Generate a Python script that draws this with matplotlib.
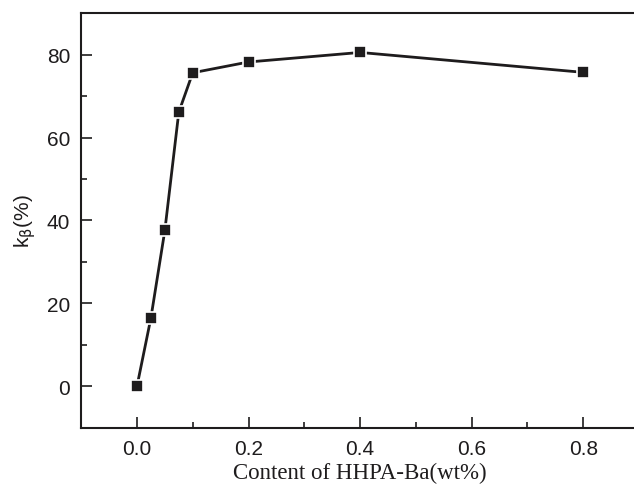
import matplotlib.pyplot as plt
from matplotlib.ticker import MultipleLocator

# data
content = [0.0, 0.025, 0.05, 0.075, 0.1, 0.2, 0.4, 0.8]
k_beta = [0.0, 16.5, 37.6, 66.1, 75.6, 78.2, 80.5, 75.7]

ink = '#1e1c1d'

fig = plt.figure(figsize=(6.34, 4.85), dpi=100)
ax = fig.add_axes([0.128, 0.1155, 0.88, 0.8556])

ax.plot(content, k_beta, '-s', color=ink, lw=2.0, ms=8,
        mfc=ink, mec='white', mew=1.2)

ax.set_xlim(-0.1, 0.9)
ax.set_ylim(-10, 90)
ax.xaxis.set_major_locator(MultipleLocator(0.2))
ax.xaxis.set_minor_locator(MultipleLocator(0.1))
ax.yaxis.set_major_locator(MultipleLocator(20))
ax.yaxis.set_minor_locator(MultipleLocator(10))
ax.set_yticks([0, 20, 40, 60, 80])

ax.tick_params(which='both', direction='in', color=ink, width=1.2,
               top=False, right=False)
ax.tick_params(which='major', length=8, pad=8, labelsize=15,
               labelcolor=ink)
ax.tick_params(which='minor', length=4.5)
for lab in ax.get_xticklabels() + ax.get_yticklabels():
    lab.set_family('Liberation Sans')

for sp in ax.spines.values():
    sp.set_color(ink)
    sp.set_linewidth(1.5)
ax.spines['right'].set_visible(False)

ax.set_xlabel('Content of HHPA-Ba(wt%)', family='Liberation Serif',
              fontsize=16.5, color=ink, labelpad=3)
plt.rcParams['mathtext.fontset'] = 'custom'
plt.rcParams['mathtext.rm'] = 'Liberation Sans'
plt.rcParams['mathtext.it'] = 'Liberation Sans:italic'
ax.set_ylabel(r'k$_{\mathrm{\beta}}$(%)', family='Liberation Sans',
              fontsize=15, color=ink, labelpad=6)

fig.savefig('out.png', dpi=100)
